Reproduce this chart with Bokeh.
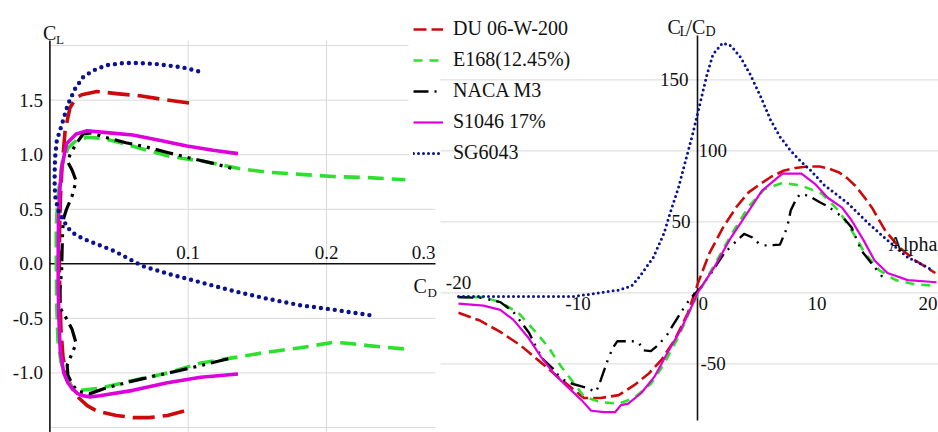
from bokeh.plotting import figure
from bokeh.models import Range1d, Legend, LegendItem
from bokeh.embed import file_html
from bokeh.resources import INLINE
from bokeh.core.properties import value

# ---------------- data: left panel, C_L versus C_D (polars) ----------------
DU_CD = [0.097, 0.085, 0.072, 0.060, 0.048, 0.034, 0.027, 0.021, 0.016, 0.012,
         0.0095, 0.008, 0.0072, 0.0068, 0.0070, 0.0076, 0.0086, 0.0098, 0.011, 0.0145,
         0.019, 0.023, 0.034, 0.048, 0.065, 0.080, 0.103]
DU_CL = [-1.35, -1.39, -1.41, -1.41, -1.39, -1.35, -1.30, -1.23, -1.14, -1.02,
         -0.86, -0.6, -0.3, 0.0, 0.3, 0.6, 0.85, 1.04, 1.22, 1.43,
         1.52, 1.55, 1.58, 1.56, 1.54, 1.51, 1.47]

E168_CD = [0.256, 0.230, 0.217, 0.205, 0.181, 0.157, 0.133, 0.109, 0.085, 0.060,
           0.036, 0.022, 0.016, 0.012, 0.008, 0.0058, 0.005, 0.0046, 0.0046, 0.005,
           0.0058, 0.0085, 0.013, 0.019, 0.027, 0.038, 0.051, 0.065, 0.085, 0.099,
           0.111, 0.138, 0.157, 0.181, 0.205, 0.230, 0.257]
E168_CL = [-0.78, -0.75, -0.73, -0.72, -0.77, -0.81, -0.86, -0.91, -1.00, -1.07,
           -1.14, -1.16, -1.13, -1.05, -0.9, -0.7, -0.4, 0.0, 0.3, 0.45,
           0.6, 0.9, 1.06, 1.13, 1.16, 1.15, 1.11, 1.06, 0.99, 0.96,
           0.94, 0.87, 0.84, 0.82, 0.80, 0.79, 0.77]

M3_CD = [0.129, 0.110, 0.093, 0.075, 0.058, 0.040, 0.029, 0.020, 0.016, 0.013,
         0.0125, 0.016, 0.019, 0.016, 0.011, 0.0072, 0.0072, 0.0085, 0.0088, 0.0092,
         0.0100, 0.012, 0.016, 0.019, 0.016, 0.013, 0.0145, 0.019, 0.024, 0.030,
         0.040, 0.055, 0.070, 0.085, 0.101, 0.118, 0.133]
M3_CL = [-0.87, -0.93, -0.98, -1.03, -1.08, -1.14, -1.19, -1.17, -1.10, -1.02,
         -0.93, -0.82, -0.73, -0.60, -0.48, -0.40, -0.25, -0.05, 0.12, 0.30,
         0.42, 0.50, 0.62, 0.76, 0.86, 0.93, 1.00, 1.10, 1.19, 1.20,
         1.16, 1.11, 1.07, 1.02, 0.97, 0.92, 0.87]

S1046_CD = [0.136, 0.109, 0.085, 0.060, 0.036, 0.029, 0.024, 0.020, 0.016, 0.013,
            0.010, 0.0075, 0.0065, 0.006, 0.006, 0.0062, 0.007, 0.0085, 0.012, 0.019,
            0.027, 0.043, 0.060, 0.080, 0.099, 0.118, 0.136]
S1046_CL = [-1.01, -1.04, -1.09, -1.16, -1.21, -1.22, -1.21, -1.19, -1.14, -1.09,
            -1.0, -0.8, -0.5, -0.2, 0.1, 0.4, 0.65, 0.88, 1.10, 1.19,
            1.22, 1.20, 1.18, 1.13, 1.08, 1.04, 1.01]

SG_CD = [0.231, 0.205, 0.181, 0.157, 0.133, 0.109, 0.085, 0.067, 0.058, 0.046,
         0.034, 0.024, 0.017, 0.013, 0.0097, 0.006, 0.0038, 0.0034, 0.0035, 0.0038,
         0.005, 0.0087, 0.013, 0.018, 0.024, 0.031, 0.041, 0.053, 0.065, 0.078,
         0.096, 0.112]
SG_CL = [-0.47, -0.42, -0.38, -0.32, -0.25, -0.17, -0.09, -0.02, 0.04, 0.12,
         0.18, 0.23, 0.28, 0.33, 0.40, 0.49, 0.62, 0.75, 0.88, 0.98,
         1.13, 1.28, 1.46, 1.60, 1.71, 1.77, 1.82, 1.84, 1.84, 1.83,
         1.80, 1.75]

# ---------------- data: right panel, C_L/C_D versus Alpha ----------------
DU_A = [-20, -18.2, -16.5, -14.8, -13.1, -11.7, -10.3, -9.5, -8.1, -6.6,
        -5.3, -4.1, -3.0, -1.9, -0.8, 0.0, 1.0, 2.2, 3.3, 4.3,
        5.3, 6.2, 7.2, 8.2, 9.2, 10.2, 11.0, 11.8, 12.5, 13.2,
        14.0, 14.6, 15.7, 16.9, 18.2, 19.9]
DU_R = [-14, -19.5, -27.5, -37, -49, -59, -68.5, -74, -74, -72,
        -65, -57, -47, -33, -14, 6, 28, 47, 61, 71,
        77, 82, 86, 88, 89, 89, 87.5, 85, 81, 75.5,
        67, 60, 44, 32, 23, 14]

E168_A = [-20, -17.9, -16.5, -15.0, -13.7, -12.5, -11.4, -10.3, -9.5, -8.1,
          -6.6, -5.3, -3.9, -2.8, -1.6, -0.5, 0.2, 1.5, 2.9, 4.3,
          5.6, 7.1, 8.7, 10.4, 11.8, 12.9, 14.0, 15.2, 16.6, 18.2, 20]
E168_R = [-3, -3, -6.5, -14, -26, -38, -52, -64, -73, -77,
          -78, -74, -64, -50, -31, -10, 2, 21, 42, 61,
          73, 77.5, 75.5, 70, 58, 44, 28, 16, 9, 6, 5]

M3_A = [-20, -18, -16.5, -15.4, -14.1, -13.4, -12.9, -12.0, -11.5, -10.5,
        -9.2, -8.5, -8.1, -7.5, -7.1, -6.7, -5.9, -5.0, -4.5, -3.9,
        -3.2, -2.5, -2.0, -1.1, -0.6, 0.3, 1.1, 2.2, 3.3, 3.9,
        4.6, 5.3, 6.1, 6.9, 7.5, 7.8, 8.2, 8.6, 9.4, 10.2,
        10.9, 12.2, 12.9, 13.7, 14.6, 15.5, 15.9]
M3_R = [-3, -3.5, -6.5, -13.5, -28, -40, -47, -54, -60, -64,
        -67, -70, -61.5, -47, -39, -34, -34, -34, -40.5, -41,
        -36, -29, -22, -10, -4, 4, 13.5, 27.5, 37, 41.5,
        39, 33.5, 33.5, 34, 46, 58, 65, 70, 68, 64,
        61, 53, 46, 30, 20.5, 11, 10]

S1046_A = [-20, -17.9, -16.5, -15.4, -14.2, -13.1, -12.0, -10.9, -9.7, -8.9,
           -7.8, -6.9, -6.4, -5.8, -4.7, -3.6, -2.5, -1.4, -0.3, 0.0,
           1.4, 2.8, 4.3, 5.4, 6.4, 7.1, 8.7, 9.8, 10.9, 12.1,
           12.9, 13.9, 14.8, 15.9, 17.6, 20]
S1046_R = [-7.5, -9, -12, -19, -31, -45, -57, -66, -75.5, -83,
           -84, -84, -79, -78, -70.5, -59, -42, -26, -6, 0,
           18, 39, 58, 72, 79, 84, 84, 77, 67, 60,
           51, 37, 23, 14, 9, 7.5]

SG_A = [-20, -17, -14, -12, -10.3, -8.3, -6.6, -5.5, -4.8, -3.7,
        -2.8, -2.3, -1.6, -1.0, -0.4, 0.0, 0.4, 0.8, 1.3, 2.1,
        2.8, 3.6, 4.4, 5.3, 6.1, 6.9, 7.8, 8.6, 9.5, 10.6,
        12.6, 14.3, 15.9, 17.6, 19.7]
SG_R = [-2.5, -2.5, -2.5, -2.5, -2.5, 0, 2, 5, 12, 25,
        42, 56, 74, 93, 112, 126, 140, 154, 168, 176,
        174, 166, 154, 138, 122, 110, 100, 93, 86, 76,
        63, 49, 37, 25, 16]

NAMES = ["DU 06-W-200", "E168(12.45%)", "NACA M3", "S1046 17%", "SG6043"]

# ticks
CL_TICKS = [-1.0, -0.5, 0.0, 0.5, 1.0, 1.5]
CL_GRID = [-1.5, -1.0, -0.5, 0.5, 1.0, 1.5, 2.0]
CD_TICKS = [0.1, 0.2, 0.3]
R_GRID = [-50, 0, 50, 100, 150]
R_TICKS = [150, 100, 50, -50]
A_TICKS = [-20, -10, 0, 10, 20]

# ---------------- layout calibration (pixels) ----------------
FONT = "'Liberation Serif', 'Times New Roman', Times, 'DejaVu Serif', serif"
W, H = 938, 432
CD_PX0, CD_PX_PER = 49.4, 1383.0
CL_PY0, CL_PY_PER = 263.3, 109.1
A_PX0, A_PX_PER = 697.0, 11.95
R_PY0, R_PY_PER = 292.4, 1.42

def cd_at(px):
    return (px - CD_PX0) / CD_PX_PER

def cl_at(py):
    return (CL_PY0 - py) / CL_PY_PER

def a_at(px):
    return (px - A_PX0) / A_PX_PER

def r_at(py):
    return (R_PY0 - py) / R_PY_PER

p = figure(width=W, height=H, output_backend="svg", toolbar_location=None,
           x_range=Range1d(cd_at(0), cd_at(W)), y_range=Range1d(cl_at(H), cl_at(0)),
           x_axis_location=None, y_axis_location=None, min_border=0)
p.extra_x_ranges = {"a": Range1d(a_at(0), a_at(W))}
p.extra_y_ranges = {"r": Range1d(r_at(H), r_at(0))}
for g in p.grid:
    g.visible = False
p.outline_line_color = None
p.background_fill_color = "white"
p.border_fill_color = "white"

GRID_C = "#d9d9d9"
CD_END = cd_at(435)
CD_END_HI = cd_at(408)
CL_TOP = cl_at(40)
CL_BOT = cl_at(H)
A_START = a_at(440)
A_END = a_at(W)
R_TOP = r_at(35)
R_BOT = r_at(420)

# ---- left grid & axes
lo = [v for v in CL_GRID if v <= 0.5]
hi = [v for v in CL_GRID if v > 0.5]
p.segment(x0=[0] * len(lo), y0=lo, x1=[CD_END] * len(lo), y1=lo, line_color=GRID_C, line_width=1)
p.segment(x0=[0] * len(hi), y0=hi, x1=[CD_END_HI] * len(hi), y1=hi, line_color=GRID_C, line_width=1)
vx = CD_TICKS[:2]
p.segment(x0=vx, y0=[CL_BOT] * 2, x1=vx, y1=[CL_TOP] * 2, line_color=GRID_C, line_width=1)

# ---- right grid
p.segment(x0=[A_START] * len(R_GRID), y0=R_GRID, x1=[A_END] * len(R_GRID), y1=R_GRID,
          line_color=GRID_C, line_width=1, x_range_name="a", y_range_name="r")

# ---- axes lines
p.segment(x0=[0], y0=[0], x1=[CD_END], y1=[0], line_color="#111111", line_width=1.6)
p.segment(x0=[0], y0=[CL_BOT], x1=[0], y1=[CL_TOP], line_color="#111111", line_width=1.6)
p.segment(x0=[0], y0=[R_BOT], x1=[0], y1=[R_TOP], line_color="#111111", line_width=1.6,
          x_range_name="a", y_range_name="r")

# ---- series styles
RED, GREEN, BLACK, MAG, NAVY = "#cc0a0a", "#2ee02e", "#000000", "#dd00dd", "#0b1290"
left_styles = [
    dict(line_color=RED, line_width=3.6, line_dash="22 8"),
    dict(line_color=GREEN, line_width=3.6, line_dash="16 8"),
    dict(line_color=BLACK, line_width=3.2, line_dash="18 6 3 6 3 6"),
    dict(line_color=MAG, line_width=3.6),
    dict(line_color=NAVY, line_width=4.4, line_dash="0 7", line_cap="round"),
]
right_styles = [
    dict(line_color=RED, line_width=2.6, line_dash="13 5"),
    dict(line_color=GREEN, line_width=2.6, line_dash="9 7"),
    dict(line_color=BLACK, line_width=2.4, line_dash="15 6 2 7 2 6"),
    dict(line_color=MAG, line_width=2.2),
    dict(line_color=NAVY, line_width=3.0, line_dash="0 5", line_cap="round"),
]
polars = [(DU_CD, DU_CL), (E168_CD, E168_CL), (M3_CD, M3_CL), (S1046_CD, S1046_CL), (SG_CD, SG_CL)]
ratios = [(DU_A, DU_R), (E168_A, E168_R), (M3_A, M3_R), (S1046_A, S1046_R), (SG_A, SG_R)]

for (xs, ys), st in zip(polars, left_styles):
    p.line(xs, ys, line_join="round", **st)
right_renderers = []
for (xs, ys), st in zip(ratios, right_styles):
    right_renderers.append(p.line(xs, ys, line_join="round", x_range_name="a", y_range_name="r", **st))

# ---- legend
items = [LegendItem(label=name, renderers=[r]) for name, r in zip(NAMES, right_renderers)]
legend = Legend(items=items, location=(413, 268), margin=0, padding=0, spacing=8,
                glyph_width=30, glyph_height=20, label_standoff=10,
                label_text_font=FONT, label_text_font_size="20px", label_text_color="#111111",
                label_text_baseline="middle",
                background_fill_alpha=0, border_line_alpha=0)
p.add_layout(legend)


def txt(x, y, s, size="19px", align="left", baseline="middle", dx=0, dy=0, xr="default", yr="default"):
    p.text(x=x, y=y, text=s, text_font=value(FONT), text_font_size=value(size),
           text_align=align, text_baseline=baseline, x_offset=dx, y_offset=dy,
           text_color="#111111", x_range_name=xr, y_range_name=yr)

# ---- left tick labels
txt([0] * len(CL_TICKS), CL_TICKS, [f"{v:.1f}" for v in CL_TICKS], align="right", dx=-7)
txt(CD_TICKS[:2], [0, 0], [f"{v:.1f}" for v in CD_TICKS[:2]], align="center", baseline="bottom", dy=-5)
txt([CD_END], [0], [f"{CD_TICKS[2]:.1f}"], align="right", baseline="bottom", dy=-5)

# ---- left axis titles
txt([0], [CL_TOP], ["C"], size="20px", align="left", baseline="alphabetic", dx=-7, dy=-8)
txt([0], [CL_TOP], ["L"], size="13px", align="left", baseline="alphabetic", dx=6, dy=-1)
txt([CD_END], [0], ["C"], size="20px", align="left", baseline="alphabetic", dx=-22, dy=22)
txt([CD_END], [0], ["D"], size="13px", align="left", baseline="alphabetic", dx=-8, dy=29)

# ---- right tick labels
r_sides = {150: ("right", -9), 100: ("left", 1), 50: ("right", -7), -50: ("left", 3)}
for v in R_TICKS:
    al, dx = r_sides[v]
    txt([0], [v], [f"{v:g}"], align=al, dx=dx, xr="a", yr="r")
a_style = {-20: ("center", 0, "bottom", -4), -10: ("center", 0, "top", 4),
           0: ("left", 1, "top", 4), 10: ("center", 0, "top", 4), 20: ("right", 1, "top", 4)}
for v in A_TICKS:
    al, dx, bl, dy = a_style[v]
    txt([v], [0], [f"{v:g}"], align=al, dx=dx, baseline=bl, dy=dy, xr="a", yr="r")

# ---- right axis titles
txt([0], [R_TOP], ["C"], size="20px", baseline="alphabetic", dx=-30, dy=-9, xr="a", yr="r")
txt([0], [R_TOP], ["L"], size="14px", baseline="alphabetic", dx=-18, dy=-4, xr="a", yr="r")
txt([0], [R_TOP], ["/C"], size="20px", baseline="alphabetic", dx=-11, dy=-9, xr="a", yr="r")
txt([0], [R_TOP], ["D"], size="14px", baseline="alphabetic", dx=8, dy=-4, xr="a", yr="r")
txt([A_TICKS[-1]], [0], ["Alpha"], size="20px", align="right", baseline="alphabetic",
    dx=1, dy=-49, xr="a", yr="r")

open("out.html", "w").write(file_html(p, INLINE))
